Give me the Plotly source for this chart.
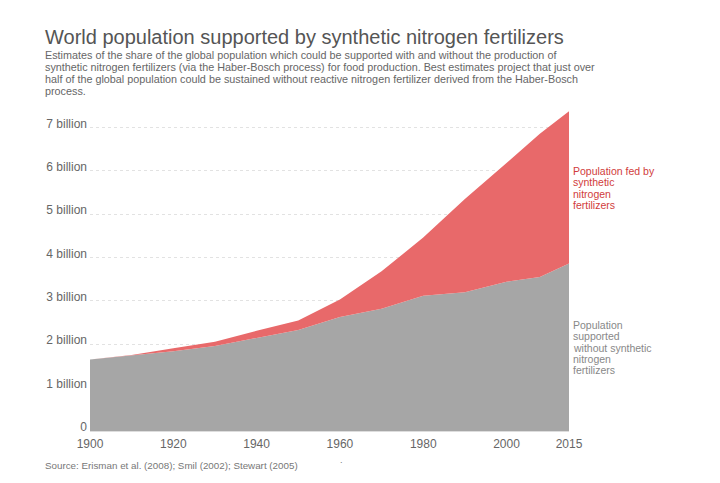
import plotly.graph_objects as go

# values (billions)
years = [1900, 1910, 1920, 1930, 1940, 1950, 1960, 1970, 1980, 1990, 2000, 2008, 2015]
total_pop = [1.65, 1.75, 1.91, 2.06, 2.31, 2.55, 3.03, 3.68, 4.46, 5.35, 6.18, 6.85, 7.37]
without_fert = [1.65, 1.75, 1.84, 1.96, 2.15, 2.33, 2.63, 2.82, 3.12, 3.20, 3.44, 3.55, 3.86]

y_ticks = [0, 1, 2, 3, 4, 5, 6, 7]
y_labels = ["0", "1 billion", "2 billion", "3 billion", "4 billion", "5 billion", "6 billion", "7 billion"]
x_ticks = [1900, 1920, 1940, 1960, 1980, 2000, 2015]

title = "World population supported by synthetic nitrogen fertilizers"
subtitle_lines = [
    "Estimates of the share of the global population which could be supported with and without the production of",
    "synthetic nitrogen fertilizers (via the Haber-Bosch process) for food production. Best estimates project that just over",
    "half of the global population could be sustained without reactive nitrogen fertilizer derived from the Haber-Bosch",
    "process.",
]
red_label = ["Population fed by", "synthetic", "nitrogen", "fertilizers"]
grey_label = ["Population", "supported", "without synthetic", "nitrogen", "fertilizers"]
source = "Source: Erisman et al. (2008); Smil (2002); Stewart (2005)"

FONT = "Liberation Sans, Arial, sans-serif"
RED = "#e8696a"
GREY = "#a6a6a6"

fig = go.Figure()

fig.add_trace(go.Scatter(
    x=years, y=without_fert, mode="lines", line=dict(width=0, color=GREY),
    fill="tozeroy", fillcolor=GREY, name="without", hoverinfo="x+y"
))
fig.add_trace(go.Scatter(
    x=years, y=total_pop, mode="lines", line=dict(width=0, color=RED),
    fill="tonexty", fillcolor=RED, name="with", hoverinfo="x+y"
))

# page is drawn with an 8px body margin, plot area ends up at x 90..569, y 110..431
def px(xp): return (xp - 90) / 479
def py(yp): return (431 - yp) / 321

annotations = [
    dict(text=title, x=px(43), y=py(37), xanchor="left", yanchor="middle",
         font=dict(size=20, color="#555555")),
    dict(text=source, x=px(43), y=py(465), xanchor="left", yanchor="middle",
         font=dict(size=9.8, color="#777777")),
    dict(text=".", x=px(341), y=py(460), xanchor="center", yanchor="middle",
         font=dict(size=9, color="#777777")),
]
for i, line in enumerate(subtitle_lines):
    annotations.append(dict(text=line, x=px(43), y=py(55 + 12 * i), xanchor="left", yanchor="middle",
                            font=dict(size=10.8, color="#666666")))
for i, line in enumerate(red_label):
    annotations.append(dict(text=line, x=px(571), y=py(171 + 11.4 * i), xanchor="left", yanchor="middle",
                            font=dict(size=10.5, color="#d13c3c")))
for i, line in enumerate(grey_label):
    annotations.append(dict(text=line, x=px(571), y=py(325 + 11.3 * i), xanchor="left", yanchor="middle",
                            font=dict(size=10.5, color="#888888")))
for a in annotations:
    a.update(xref="paper", yref="paper", showarrow=False)

fig.update_layout(
    width=720, height=483,
    margin=dict(l=82, r=159, t=102, b=60),
    paper_bgcolor="white", plot_bgcolor="white",
    showlegend=False,
    font=dict(family=FONT, color="#666666"),
    annotations=annotations,
    xaxis=dict(range=[1900, 2015], tickvals=x_ticks, showgrid=False, zeroline=False,
               showline=True, linecolor="#dddddd", ticks="", ticklabelstandoff=2,
               tickfont=dict(size=12, color="#666666")),
    yaxis=dict(range=[0, 7.4], tickvals=y_ticks, ticktext=y_labels, showgrid=True,
               gridcolor="#e2e2e2", griddash="dot", zeroline=False, ticks="",
               ticklabelshift=-4, ticklabelstandoff=2,
               tickfont=dict(size=12, color="#666666")),
)

fig.write_html("out.html")
